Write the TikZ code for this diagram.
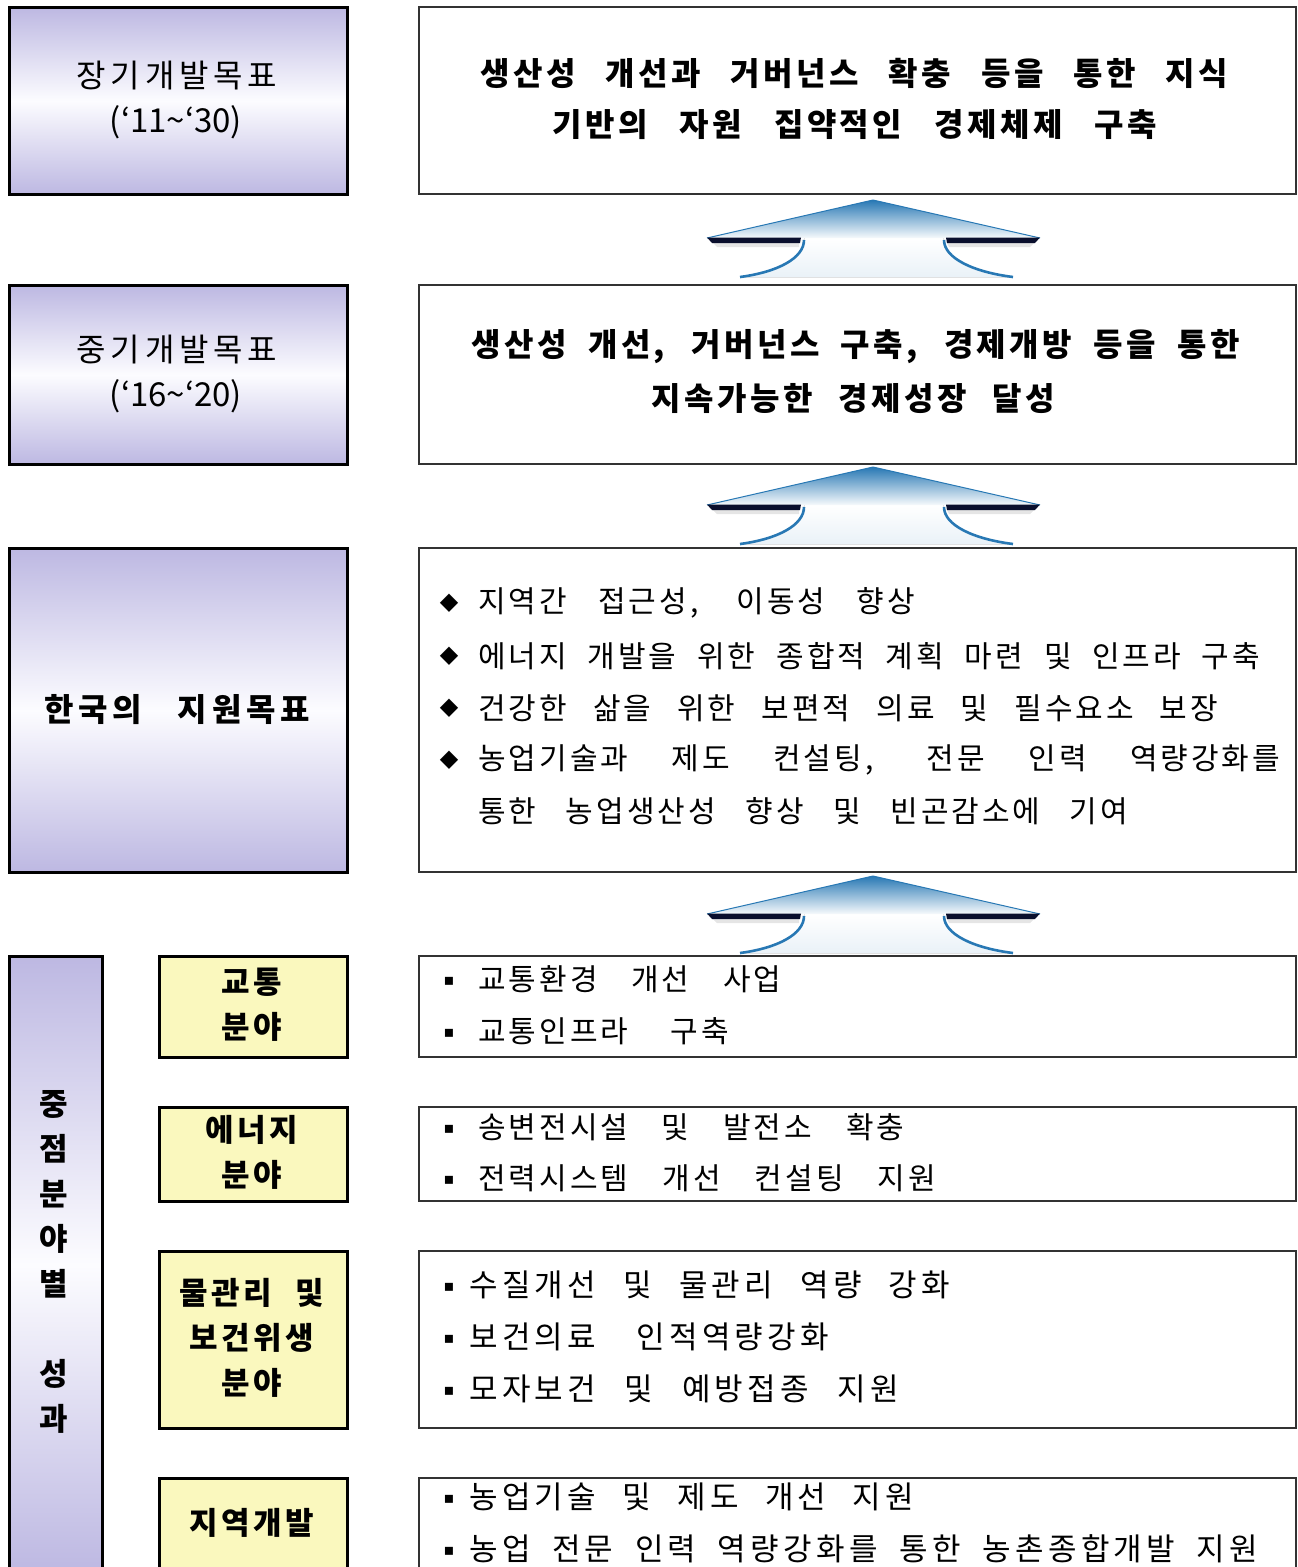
\documentclass[tikz,border=0pt]{standalone}
\usepackage{fontspec}
\setmainfont{Noto Sans CJK KR}
\newfontfamily\fbody{Noto Sans CJK KR}[LetterSpace=10]
\newfontfamily\fbig{Noto Sans CJK KR}[LetterSpace=14]
\newfontfamily\fyel{Noto Sans CJK KR}[LetterSpace=11]
\newfontfamily\ftitle{Noto Sans CJK KR}[LetterSpace=11]
\newfontfamily\fleft{Noto Sans CJK KR}[LetterSpace=15]
\newfontfamily\fleftb{Noto Sans CJK KR}[LetterSpace=15]
\newfontfamily\fplain{Noto Sans CJK KR}
\newfontfamily\fsym{DejaVu Sans}
\definecolor{lav}{RGB}{189,184,226}
\definecolor{lavmid}{RGB}{252,252,255}
\definecolor{yel}{RGB}{250,248,190}
\definecolor{arrblue}{RGB}{40,120,180}
\definecolor{navy}{RGB}{10,15,45}
\newcommand\wsp{\spaceskip=4pt plus 1fil\relax}
\newcommand\boxnode[6]{\node[#1, anchor=north west, inner sep=0pt,
  minimum width={(#5-#3)*1pt}, minimum height={(#6-#4)*1pt}] (#2) at (#3,#4) {};}
\newcommand\tline[6]{\node[#1] (#2) at (#3,#4) {\makebox[#5pt][s]{#6}};}
\tikzset{
  leftbox/.style={draw=black, line width=2.6pt, top color=lav, bottom color=lav, middle color=lavmid},
  rightbox/.style={draw=black!80, line width=1.6pt, fill=white},
  yelbox/.style={draw=black, line width=2.6pt, fill=yel},
  titletxt/.style={inner sep=0pt, anchor=west, font=\ftitle\bfseries\fontsize{32}{32}\selectfont\wsp},
  bodytxt/.style={inner sep=0pt, anchor=west, font=\fbody\fontsize{30}{30}\selectfont\wsp},
  bigtxt/.style={inner sep=0pt, anchor=west, font=\fbig\fontsize{31}{31}\selectfont\wsp},
  lefttxt/.style={inner sep=0pt, font=\fleft\fontsize{32}{32}\selectfont\wsp},
  leftbold/.style={inner sep=0pt, font=\fleftb\bfseries\fontsize{32}{32}\selectfont\wsp},
  leftnum/.style={inner sep=0pt, font=\fplain\fontsize{33}{33}\selectfont},
  yeltxt/.style={inner sep=0pt, align=center, font=\fyel\bfseries\fontsize{31}{45}\selectfont\wsp},
  diam/.style={inner sep=0pt, font=\fsym\fontsize{24}{24}\selectfont},
  sq/.style={inner sep=0pt, font=\fsym\fontsize{16}{16}\selectfont},
  uparrow/.pic={
    \fill[top color=white, bottom color=arrblue!10]
      (-68,38) .. controls (-68,58) and (-95,72) .. (-133,77) -- (140,77)
      .. controls (102,72) and (70,58) .. (70,38) -- cycle;
    \shade[top color=arrblue, bottom color=arrblue!4] (0,0) -- (-166,38) -- (167,38) -- cycle;
    \draw[arrblue, line width=1pt, line join=round] (-166,38) -- (0,0) -- (167,38);
    \fill[black!10] (-160,43) -- (-74,43) -- (-74,47) -- (-156,47) -- cycle;
    \fill[black!10] (74,43) -- (161,43) -- (157,47) -- (76,47) -- cycle;
    \fill[navy] (-166,37.5) -- (-72,37.5) -- (-73,43) -- (-161,43) -- cycle;
    \fill[navy] (73,37.5) -- (167,37.5) -- (162,43) -- (74,43) -- cycle;
    \draw[arrblue, line width=2.6pt] (-69,40) .. controls (-69,58) and (-95,72) .. (-133,77);
    \draw[arrblue, line width=2.6pt] (71,40) .. controls (71,58) and (100,72) .. (140,77);
  }
}
\begin{document}
\begin{tikzpicture}[x=1pt,y=-1pt]
\useasboundingbox (0,0) rectangle (1298,1567);
% boxes
\boxnode{leftbox}{lt1}{8}{6}{346}{193}
\boxnode{leftbox}{lt2}{8}{284}{346}{463}
\boxnode{leftbox}{lt3}{8}{547}{346}{871}
\boxnode{leftbox}{lv}{8}{955}{101}{1572}
\boxnode{yelbox}{yb1}{158}{955}{346}{1056}
\boxnode{yelbox}{yb2}{158}{1106}{346}{1200}
\boxnode{yelbox}{yb3}{158}{1250}{346}{1427}
\boxnode{yelbox}{yb4}{158}{1477}{346}{1572}
\boxnode{rightbox}{rt1}{418}{6}{1295}{193}
\boxnode{rightbox}{rt2}{418}{284}{1295}{463}
\boxnode{rightbox}{rt3}{418}{547}{1295}{871}
\boxnode{rightbox}{rb1}{418}{955}{1295}{1056}
\boxnode{rightbox}{rb2}{418}{1106}{1295}{1200}
\boxnode{rightbox}{rb3}{418}{1250}{1295}{1427}
\boxnode{rightbox}{rb4}{418}{1477}{1295}{1572}
% arrows
\pic (ar1) at (873,200) {uparrow};
\pic (ar2) at (873,467) {uparrow};
\pic (ar3) at (873,876) {uparrow};
% left titles
\node[lefttxt] (l1a) at (177,76) {장기개발목표};
\node[leftnum] (l1b) at (176,122) {(‘11\textasciitilde‘30)};
\node[lefttxt] (l2a) at (177,350) {중기개발목표};
\node[leftnum] (l2b) at (176,396) {(‘16\textasciitilde‘20)};
\node[leftbold] (l3a) at (177,710) {\makebox[266pt][s]{한국의 지원목표}};
\node[yeltxt] (lvt) at (54,1262) {중\\점\\분\\야\\별\\[45pt]성\\과};
% yellow texts
\node[yeltxt] (y1) at (252,1004.5) {교통\\분야};
\node[yeltxt] (y2) at (252,1152.5) {에너지\\분야};
\node[yeltxt] (y3) at (252,1338) {\makebox[145pt][s]{물관리 및}\\보건위생\\분야};
\node[yeltxt] (y4) at (252,1523) {지역개발};
% right titles
\tline{titletxt}{r1a}{480}{73}{748}{생산성 개선과 거버넌스 확충 등을 통한 지식}
\tline{titletxt}{r1b}{552}{125}{605}{기반의 자원 집약적인 경제체제 구축}
\tline{titletxt}{r2a}{471}{347}{769}{생산성 개선, 거버넌스 구축, 경제개방 등을 통한}
\tline{titletxt}{r2b}{651}{399}{404}{지속가능한 경제성장 달성}
% box 3
\node[diam] (d1) at (449,603) {◆};
\node[diam] (d2) at (449,656) {◆};
\node[diam] (d3) at (449,708) {◆};
\node[diam] (d4) at (449,760) {◆};
\tline{bodytxt}{g1}{478}{603}{437}{지역간 접근성, 이동성 향상}
\tline{bodytxt}{g2}{478}{656}{782}{에너지 개발을 위한 종합적 계획 마련 및 인프라 구축}
\tline{bodytxt}{g3}{478}{708}{740}{건강한 삶을 위한 보편적 의료 및 필수요소 보장}
\tline{bodytxt}{g4}{478}{760}{802}{농업기술과 제도 컨설팅, 전문 인력 역량강화를}
\tline{bodytxt}{g5}{478}{811}{650}{통한 농업생산성 향상 및 빈곤감소에 기여}
% bottom boxes
\node[sq] (s11) at (449,981) {▪};
\node[sq] (s12) at (449,1033) {▪};
\tline{bodytxt}{h11}{478}{979}{303}{교통환경 개선 사업}
\tline{bodytxt}{h12}{478}{1031}{251}{교통인프라 구축}
\node[sq] (s21) at (449,1129) {▪};
\node[sq] (s22) at (449,1180) {▪};
\tline{bodytxt}{h21}{478}{1127}{426}{송변전시설 및 발전소 확충}
\tline{bodytxt}{h22}{478}{1178}{458}{전력시스템 개선 컨설팅 지원}
\node[sq] (s31) at (449,1287) {▪};
\node[sq] (s32) at (449,1339) {▪};
\node[sq] (s33) at (449,1391) {▪};
\tline{bigtxt}{h31}{469}{1285}{481}{수질개선 및 물관리 역량 강화}
\tline{bigtxt}{h32}{469}{1337}{360}{보건의료 인적역량강화}
\tline{bigtxt}{h33}{469}{1389}{430}{모자보건 및 예방접종 지원}
\node[sq] (s41) at (449,1499) {▪};
\node[sq] (s42) at (449,1551) {▪};
\tline{bigtxt}{h41}{469}{1497}{445}{농업기술 및 제도 개선 지원}
\tline{bigtxt}{h42}{469}{1549}{789}{농업 전문 인력 역량강화를 통한 농촌종합개발 지원}
\end{tikzpicture}
\end{document}
